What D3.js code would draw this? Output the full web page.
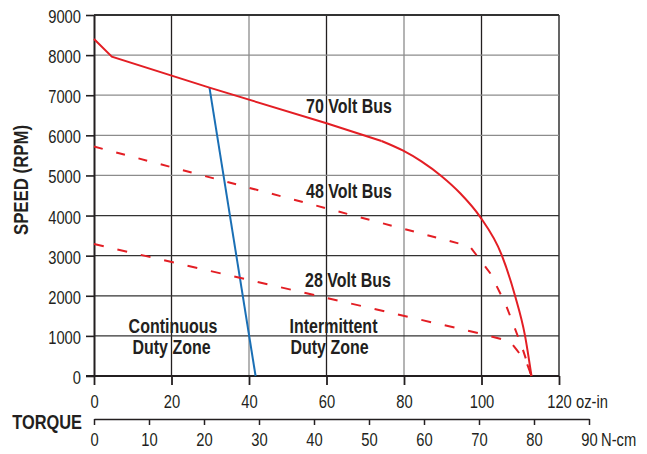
<!DOCTYPE html>
<html>
<head>
<meta charset="utf-8">
<script src="https://cdn.jsdelivr.net/npm/d3@7"></script>
<style>
  body { margin: 0; background: #fff; }
  text { font-family: "Liberation Sans", Arial, sans-serif; fill: #231f20; }
</style>
</head>
<body>
<div id="chart"></div>
<script>
// chart data (torque in oz-in, speed in rpm)
var ozTicks = [0, 20, 40, 60, 80, 100, 120];
var ncmTicks = [0, 10, 20, 30, 40, 50, 60, 70, 80, 90];
var rpmTicks = [0, 1000, 2000, 3000, 4000, 5000, 6000, 7000, 8000, 9000];

var bus70 = [[0, 8400], [4.6, 7960], [29.8, 7190], [60, 6300], [74.2, 5860], [79.8, 5617],
             [84.5, 5350], [89.7, 4980], [94.5, 4555], [99.6, 3972], [105.2, 3020],
             [108.6, 2020], [111.2, 1020], [112.9, 0]];
var bus48 = [[0, 5720], [97, 3230], [99.6, 2900], [102.2, 2570], [106.1, 1820],
             [108.1, 1320], [110.7, 650], [112.9, 0]];
var bus28 = [[0, 3290], [99.6, 1060], [107.4, 860], [109.1, 650], [111.7, 320], [112.9, 0]];
var dutyLimit = [[29.8, 7190], [41.7, 0]];

var busNames = ["70 Volt Bus", "48 Volt Bus", "28 Volt Bus"];
var zoneNames = [["Continuous", "Duty Zone"], ["Intermittent", "Duty Zone"]];

var w = 647;
var h = 454;
var red = "#e31e24";
var blue = "#1a6fb5";
var narrow = 0.82; // squeeze Liberation Sans to a condensed look

var svg = d3.select("#chart")
    .append("svg")
    .attr("width", w)
    .attr("height", h);

//Scales
var xScale = d3.scaleLinear().domain([0, 120]).range([94, 559]);
var yScale = d3.scaleLinear().domain([0, 9000]).range([376, 15]);
var nScale = d3.scaleLinear().domain([0, 90]).range([94, 589]);

// text helper: condensed text at x,y
function label(g, x, y, s, size, bold, anchor, rot) {
    return g.append("text")
        .attr("transform", "translate(" + x + "," + y + ")" + (rot ? " rotate(" + rot + ")" : "") + " scale(" + narrow + ",1)")
        .attr("text-anchor", anchor || "start")
        .style("font-size", size + "px")
        .style("font-weight", bold ? "bold" : "normal")
        .text(s);
}

//Grid
svg.append("g").selectAll("line")
    .data(ozTicks.slice(1))
    .enter()
    .append("line")
    .attr("x1", function (d) { return xScale(d); })
    .attr("x2", function (d) { return xScale(d); })
    .attr("y1", yScale(9000))
    .attr("y2", yScale(0))
    .attr("stroke", function (d) { return (d === 40 || d === 80) ? "#8c8c8c" : (d === 120 ? "#555" : "#231f20"); })
    .attr("stroke-width", function (d) { return d === 120 ? 1.8 : 1.3; });

svg.append("g").selectAll("line")
    .data(rpmTicks.slice(1))
    .enter()
    .append("line")
    .attr("x1", xScale(0))
    .attr("x2", xScale(120))
    .attr("y1", function (d) { return yScale(d); })
    .attr("y2", function (d) { return yScale(d); })
    .attr("stroke", function (d) { return (d >= 5000 && d <= 8000) ? "#8c8c8c" : "#333"; })
    .attr("stroke-width", function (d) { return d === 9000 ? 1.8 : 1.3; });

//Y axis
var yAxis = d3.axisLeft(yScale).tickValues(rpmTicks).tickFormat(d3.format("d")).tickSize(8).tickSizeOuter(0);
var gy = svg.append("g")
    .attr("transform", "translate(" + xScale(0) + ",0)")
    .call(yAxis);
gy.select(".domain").attr("stroke", "#231f20").attr("stroke-width", 2);
gy.selectAll(".tick line").attr("stroke", "#231f20").attr("stroke-width", 1.6);
gy.selectAll(".tick text")
    .attr("x", null).attr("dy", null)
    .attr("transform", "translate(-13,7.5) scale(" + narrow + ",1)")
    .style("font-size", "18px")
    .attr("fill", "#231f20");

//X axis (oz-in)
var xAxis = d3.axisBottom(xScale).tickValues(ozTicks).tickSize(9).tickSizeOuter(0);
var gx = svg.append("g")
    .attr("transform", "translate(0," + yScale(0) + ")")
    .call(xAxis);
gx.select(".domain").attr("d", "M86,0H" + xScale(120)).attr("stroke", "#231f20").attr("stroke-width", 1.8);
gx.selectAll(".tick line").attr("stroke", "#231f20").attr("stroke-width", 1.8);
gx.selectAll(".tick text")
    .attr("y", null).attr("dy", null)
    .attr("transform", "translate(0,31.5) scale(" + narrow + ",1)")
    .style("font-size", "18px")
    .attr("fill", "#231f20");
label(svg, 576, 407.5, "oz-in", 18, false, "start");

//Torque axis (N-cm)
var nAxis = d3.axisBottom(nScale).tickValues(ncmTicks).tickSize(6).tickSizeOuter(0);
var gn = svg.append("g")
    .attr("transform", "translate(0,419)")
    .call(nAxis);
gn.select(".domain").attr("stroke", "#231f20").attr("stroke-width", 1.5);
gn.selectAll(".tick line").attr("stroke", "#231f20").attr("stroke-width", 1.5);
gn.selectAll(".tick text")
    .attr("y", null).attr("dy", null)
    .attr("transform", "translate(0,27) scale(" + narrow + ",1)")
    .style("font-size", "18px")
    .attr("fill", "#231f20");
label(svg, 601, 446, "N-cm", 18, false, "start");

//Axis titles
label(svg, 82, 429, "TORQUE", 20, true, "end");
label(svg, 28, 180, "SPEED (RPM)", 20.5, true, "middle", -90);

//Curves
var line = d3.line()
    .x(function (d) { return xScale(d[0]); })
    .y(function (d) { return yScale(d[1]); });
var smooth = d3.line()
    .x(function (d) { return xScale(d[0]); })
    .y(function (d) { return yScale(d[1]); })
    .curve(d3.curveMonotoneX);

svg.append("path").attr("d", line(dutyLimit))
    .attr("fill", "none").attr("stroke", blue).attr("stroke-width", 2);
svg.append("path").attr("d", line(bus28))
    .attr("fill", "none").attr("stroke", red).attr("stroke-width", 2)
    .attr("stroke-dasharray", "10,14");
svg.append("path").attr("d", line(bus48))
    .attr("fill", "none").attr("stroke", red).attr("stroke-width", 2)
    .attr("stroke-dasharray", "9,14");
// 70 V: straight run up to the knee, then the rounded roll-off
svg.append("path").attr("d", line(bus70.slice(0, 5)))
    .attr("fill", "none").attr("stroke", red).attr("stroke-width", 2);
svg.append("path").attr("d", smooth(bus70.slice(4)))
    .attr("fill", "none").attr("stroke", red).attr("stroke-width", 2);

//Labels
label(svg, 306, 113, busNames[0], 19.5, true, "start");
label(svg, 306, 198, busNames[1], 19.5, true, "start");
label(svg, 305, 287, busNames[2], 19.5, true, "start");

label(svg, 173, 333, zoneNames[0][0], 19.5, true, "middle");
label(svg, 171.5, 354, zoneNames[0][1], 19.5, true, "middle");
label(svg, 333.5, 333, zoneNames[1][0], 19.5, true, "middle");
label(svg, 329.5, 354, zoneNames[1][1], 19.5, true, "middle");
</script>
</body>
</html>
